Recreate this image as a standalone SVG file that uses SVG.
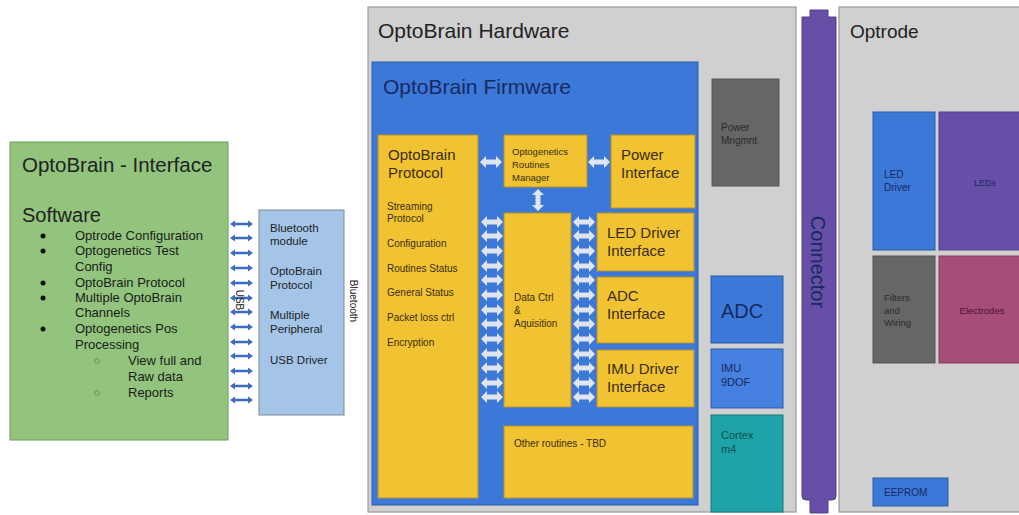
<svg xmlns="http://www.w3.org/2000/svg" width="1019" height="515" viewBox="0 0 1019 515">
<style>
text{font-family:"Liberation Sans",Arial,sans-serif;}
.t19{font-size:19px;fill:#222;}
.t21{font-size:21px;fill:#222;}
.green{fill:#93c47d;stroke:#6f9a5e;stroke-width:1;}
.gl{font-size:13px;fill:#1a1a1a;}
.lb{fill:#a4c5e8;stroke:#7f8a96;stroke-width:1;}
.lbt{font-size:11.5px;fill:#222;}
.grey{fill:#d0d0d0;stroke:#9a9a9a;stroke-width:1.2;}
.fw{fill:#3c78d8;stroke:#2c5aa8;stroke-width:1;}
.y{fill:#f1c232;stroke:#b8902a;stroke-width:1;}
.yt15{font-size:15px;fill:#3a2f10;}
.yt10{font-size:10px;fill:#3a2f10;}
.dg{fill:#666666;stroke:#555;stroke-width:1;}
.blue{fill:#3c78d8;stroke:#2c5aa8;stroke-width:1;}
.teal{fill:#1ea3a8;stroke:#16797d;stroke-width:1;}
.pur{fill:#674ea7;stroke:#53408a;stroke-width:1;}
.pink{fill:#a64d79;stroke:#853d60;stroke-width:1;}
.fa{fill:#dfe4ee;}
.ua{fill:#3d6cc4;}
</style>
<defs>
<path id="fa" d="M0,0 l6,-6 v3.5 h10 v-3.5 l6,6 l-6,6 v-3.5 h-10 v3.5 z"/>
<path id="fav" d="M0,0 l-6,6 h3.5 v10 h-3.5 l6,6 l6,-6 h-3.5 v-10 h3.5 z"/>
<path id="ua" d="M0,0 l5,-3.5 v2.3 h13 v-2.3 l5,3.5 l-5,3.5 v-2.3 h-13 v2.3 z"/>
</defs>

<g id="interface">
<rect class="green" x="10" y="142" width="218" height="298"/>
<text class="t21" x="22" y="172" style="font-size:20.5px">OptoBrain - Interface</text>
<text class="t21" x="22" y="222" style="font-size:20px">Software</text>
<g fill="#111"><circle cx="43" cy="236" r="2.5"/><circle cx="43" cy="251" r="2.5"/><circle cx="43" cy="283" r="2.5"/><circle cx="43" cy="298" r="2.5"/><circle cx="43" cy="329" r="2.5"/></g>
<g fill="none" stroke="#5f8f55" stroke-width="1"><circle cx="97" cy="361" r="2.3"/><circle cx="97" cy="393" r="2.3"/></g>
<text class="gl" x="75" y="240">Optrode Configuration</text>
<text class="gl" x="75" y="255">Optogenetics Test</text>
<text class="gl" x="75" y="271">Config</text>
<text class="gl" x="75" y="287">OptoBrain Protocol</text>
<text class="gl" x="75" y="302">Multiple OptoBrain</text>
<text class="gl" x="75" y="317">Channels</text>
<text class="gl" x="75" y="333">Optogenetics Pos</text>
<text class="gl" x="75" y="349">Processing</text>
<text class="gl" x="128" y="365">View full and</text>
<text class="gl" x="128" y="381">Raw data</text>
<text class="gl" x="128" y="397">Reports</text>
</g>

<g id="bluetooth-module">
<rect class="lb" x="259" y="210" width="85" height="205"/>
<text class="lbt" x="270" y="232">Bluetooth</text>
<text class="lbt" x="270" y="245">module</text>
<text class="lbt" x="270" y="275">OptoBrain</text>
<text class="lbt" x="270" y="289">Protocol</text>
<text class="lbt" x="270" y="319">Multiple</text>
<text class="lbt" x="270" y="333">Peripheral</text>
<text class="lbt" x="270" y="364">USB Driver</text>
<text x="353" y="301" font-size="10" fill="#222" text-anchor="middle" dy="3.5" transform="rotate(90 353 301)">Bluetooth</text>
</g>

<g id="hardware">
<rect class="grey" x="368" y="7" width="428" height="505"/>
<text class="t21" x="378" y="38">OptoBrain Hardware</text>
</g>

<g id="firmware">
<rect class="fw" x="372" y="62" width="326" height="443"/>
<text class="t21" x="383" y="94" style="fill:#172a62">OptoBrain Firmware</text>
</g>

<g id="protocol">
<rect class="y" x="378" y="135" width="100" height="363"/>
<text class="yt15" x="388" y="160">OptoBrain</text>
<text class="yt15" x="388" y="178">Protocol</text>
<text class="yt10" x="387" y="210">Streaming</text>
<text class="yt10" x="387" y="222">Protocol</text>
<text class="yt10" x="387" y="247">Configuration</text>
<text class="yt10" x="387" y="272">Routines Status</text>
<text class="yt10" x="387" y="296">General Status</text>
<text class="yt10" x="387" y="321">Packet loss ctrl</text>
<text class="yt10" x="387" y="346">Encryption</text>
</g>

<g id="routines-manager">
<rect class="y" x="504" y="135" width="83" height="52"/>
<text class="yt10" x="512" y="155" style="font-size:9.5px">Optogenetics</text>
<text class="yt10" x="512" y="168" style="font-size:9.5px">Routines</text>
<text class="yt10" x="512" y="181" style="font-size:9.5px">Manager</text>
</g>

<g id="power-interface">
<rect class="y" x="611" y="135" width="84" height="73"/>
<text class="yt15" x="621" y="160">Power</text>
<text class="yt15" x="621" y="178">Interface</text>
</g>

<g id="data-ctrl">
<rect class="y" x="504" y="213" width="67" height="194"/>
<text class="yt10" x="514" y="301">Data Ctrl</text>
<text class="yt10" x="514" y="314">&amp;</text>
<text class="yt10" x="514" y="327">Aquisition</text>
</g>

<g id="led-driver-interface">
<rect class="y" x="597" y="213" width="97" height="58"/>
<text class="yt15" x="607" y="238">LED Driver</text>
<text class="yt15" x="607" y="256">Interface</text>
</g>

<g id="adc-interface">
<rect class="y" x="597" y="277" width="97" height="66"/>
<text class="yt15" x="607" y="301">ADC</text>
<text class="yt15" x="607" y="319">Interface</text>
</g>

<g id="imu-driver-interface">
<rect class="y" x="597" y="350" width="97" height="57"/>
<text class="yt15" x="607" y="374">IMU Driver</text>
<text class="yt15" x="607" y="392">Interface</text>
</g>

<g id="other-routines">
<rect class="y" x="504" y="426" width="189" height="72"/>
<text class="yt10" x="514" y="447">Other routines - TBD</text>
</g>

<g id="power-mngmnt">
<rect class="dg" x="712" y="79" width="67" height="107"/>
<text x="721" y="131" font-size="10" fill="#2a2a2a">Power</text>
<text x="721" y="144" font-size="10" fill="#2a2a2a">Mngmnt</text>
</g>

<g id="adc">
<rect class="blue" x="711" y="276" width="72" height="67"/>
<text x="721" y="318" font-size="20" fill="#172a62">ADC</text>
</g>

<g id="imu">
<rect class="blue" x="711" y="349" width="72" height="59" style="fill:#4680e0"/>
<text x="721" y="372" font-size="11" fill="#172a62">IMU</text>
<text x="721" y="386" font-size="11" fill="#172a62">9DOF</text>
</g>

<g id="cortex">
<rect class="teal" x="711" y="415" width="72" height="97"/>
<text x="721" y="439" font-size="11" fill="#0f4f52">Cortex</text>
<text x="721" y="453" font-size="11" fill="#0f4f52">m4</text>
</g>

<g id="connector">
<path class="pur" d="M810,10 h18 v7 h8 v479 q0,4 -4,4 h-4 v13 h-18 v-13 h-4 q-4,0 -4,-4 v-479 h8 z"/>
<text x="818" y="262" font-size="20" fill="#172a62" text-anchor="middle" transform="rotate(90 818 262)" dy="7">Connector</text>
</g>

<g id="optrode">
<rect class="grey" x="839" y="7" width="190" height="505"/>
<text class="t19" x="850" y="38">Optrode</text>
</g>

<g id="led-driver">
<rect class="blue" x="873" y="112" width="62" height="138"/>
<text x="884" y="178" font-size="10" fill="#172a62">LED</text>
<text x="884" y="191" font-size="10" fill="#172a62">Driver</text>
</g>

<g id="leds">
<rect class="pur" x="939" y="112" width="90" height="138"/>
<text x="985" y="186" font-size="9" fill="#172a62" text-anchor="middle">LEDs</text>
</g>

<g id="filters">
<rect class="dg" x="873" y="256" width="62" height="107"/>
<text x="884" y="301" font-size="9.5" fill="#2a2a2a">Filters</text>
<text x="884" y="314" font-size="9.5" fill="#2a2a2a">and</text>
<text x="884" y="326" font-size="9.5" fill="#2a2a2a">Wiring</text>
</g>

<g id="electrodes">
<rect class="pink" x="939" y="256" width="90" height="107"/>
<text x="982" y="314" font-size="9.5" fill="#4a1530" text-anchor="middle">Electrodes</text>
</g>

<g id="eeprom">
<rect class="blue" x="873" y="478" width="75" height="28"/>
<text x="884" y="496" font-size="10" fill="#172a62">EEPROM</text>
</g>

<g id="connectors">
<g class="ua">
<use href="#ua" x="230" y="224"/><use href="#ua" x="230" y="238"/><use href="#ua" x="230" y="253"/><use href="#ua" x="230" y="268"/><use href="#ua" x="230" y="283"/><use href="#ua" x="230" y="298"/><use href="#ua" x="230" y="312"/><use href="#ua" x="230" y="327"/><use href="#ua" x="230" y="342"/><use href="#ua" x="230" y="356"/><use href="#ua" x="230" y="371"/><use href="#ua" x="230" y="386"/><use href="#ua" x="230" y="400"/>
</g>
<text x="239" y="300" font-size="10" fill="#222" text-anchor="middle" transform="rotate(90 239 300)" dy="3.5">USB</text>
<g class="fa">
<use href="#fa" x="480" y="162"/><use href="#fa" x="588" y="162"/>
<use href="#fav" x="538" y="189"/>
<use href="#fa" x="481" y="222"/><use href="#fa" x="481" y="236"/><use href="#fa" x="481" y="251"/><use href="#fa" x="481" y="266"/><use href="#fa" x="481" y="280"/><use href="#fa" x="481" y="295"/><use href="#fa" x="481" y="310"/><use href="#fa" x="481" y="324"/><use href="#fa" x="481" y="339"/><use href="#fa" x="481" y="354"/><use href="#fa" x="481" y="368"/><use href="#fa" x="481" y="383"/><use href="#fa" x="481" y="397"/>
<use href="#fa" x="573" y="222"/><use href="#fa" x="573" y="236"/><use href="#fa" x="573" y="251"/><use href="#fa" x="573" y="266"/><use href="#fa" x="573" y="280"/><use href="#fa" x="573" y="295"/><use href="#fa" x="573" y="310"/><use href="#fa" x="573" y="324"/><use href="#fa" x="573" y="339"/><use href="#fa" x="573" y="354"/><use href="#fa" x="573" y="368"/><use href="#fa" x="573" y="383"/><use href="#fa" x="573" y="397"/>
</g>
</g>
</svg>
